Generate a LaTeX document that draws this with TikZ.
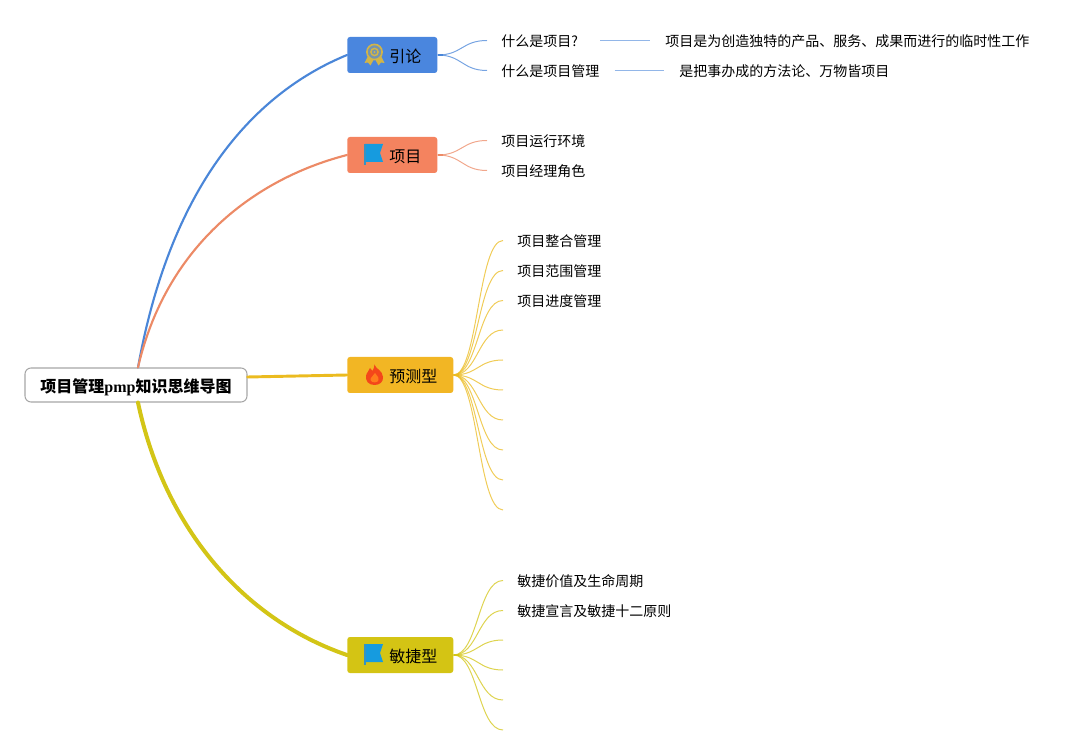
\documentclass[tikz,border=0pt]{standalone}
\usepackage{fontspec}
\setmainfont{Liberation Serif}
\newfontfamily\cjk{Noto Sans CJK SC}
\definecolor{cblue}{HTML}{4A86DE}
\definecolor{corange}{HTML}{F4835F}
\definecolor{cyellow}{HTML}{F2B624}
\definecolor{colive}{HTML}{D4C414}
\definecolor{lblue}{HTML}{4A86D8}
\definecolor{lorange}{HTML}{EC8A66}
\definecolor{lyellow}{HTML}{EBBB20}
\definecolor{lolive}{HTML}{D3C516}
\definecolor{flagblue}{HTML}{169BDF}
\definecolor{medalgold}{HTML}{D2B548}
\definecolor{flamered}{HTML}{F4471A}
\definecolor{flameorange}{HTML}{FF7E1C}
\tikzset{
  root/.style={draw=black!35,line width=.8pt,rounded corners=4.5pt,fill=white,inner xsep=0pt,inner ysep=0pt,minimum width=166.5pt,minimum height=25.5pt,text height=11pt,text depth=0pt,font=\cjk\bfseries\fontsize{12}{14}\selectfont,text=black},
  topic/.style={rounded corners=2pt,inner sep=0pt,minimum height=27pt,text height=11pt,text depth=0pt,anchor=west,text=black,font=\cjk\fontsize{12}{14}\selectfont},
  leaf/.style={anchor=west,inner xsep=10.5pt,inner ysep=0pt,text height=9.5pt,text depth=1pt,font=\cjk\fontsize{10.5}{12}\selectfont,text=black},
  main/.style={line cap=round,line join=round},
  branch/.style={line width=.75pt,draw opacity=.75},
  stub/.style={line width=1.5pt},
  twig/.style={line width=.9pt,draw opacity=.6},
  pics/flagicon/.style={code={
    \fill[flagblue] (-9.5,-11) -- (8.5,-11) -- (5.5,-2) -- (8.5,7) -- (-9.5,7) -- cycle;
    \draw[flagblue!70!gray,line width=.8pt] (-9.5,-11) -- (-9.5,10);
  }},
  pics/medalicon/.style={code={
    \fill[medalgold] (-6.5,1) -- (-10,8) -- (-6.5,7.5) -- (-4,10.5) -- (-1,5) -- cycle;
    \fill[medalgold] (6.5,1) -- (10,8) -- (6.5,7.5) -- (4,10.5) -- (1,5) -- cycle;
    \draw[medalgold,line width=1.2pt,fill=cblue!70!medalgold] (0,-3) circle[radius=7.6];
    \draw[medalgold,line width=1.1pt] (0,-3) circle[radius=3.6];
    \fill[medalgold] (0,-3) circle[radius=1.2];
  }},
  pics/flameicon/.style={code={
    \fill[flamered] (0,-10.5) .. controls (1,-6) and (8,-5) .. (8.5,2) .. controls (9,7) and (5,10) .. (0,10) .. controls (-6,10) and (-9,6) .. (-8.5,1) .. controls (-8,-3) and (-5,-4) .. (-4.5,-7) .. controls (-3,-5.5) and (-2.5,-5) .. (-2,-4) .. controls (-1,-6) and (0,-8) .. (0,-10.5) -- cycle;
    \fill[flameorange] (0.5,-2) .. controls (1,0) and (4.5,1) .. (4,5) .. controls (3.5,8) and (-3,8.5) .. (-4,5) .. controls (-4.5,2) and (-0.5,1) .. (0.5,-2) -- cycle;
  }},
}
\begin{document}
\begin{tikzpicture}[x=.75pt,y=-.75pt]
\useasboundingbox (0,0) rectangle (1089,755);
\node[root] (r) at (136,385) {项目管理{\rmfamily\bfseries pmp}知识思维导图};
\node[topic,fill=cblue] (t1) at (347,55) {\hspace*{31.5pt}引论\hspace*{12pt}};
\node[topic,fill=corange] (t2) at (347,155) {\hspace*{31.5pt}项目\hspace*{12pt}};
\node[topic,fill=cyellow] (t3) at (347,375) {\hspace*{31.5pt}预测型\hspace*{12pt}};
\node[topic,fill=colive] (t4) at (347,655) {\hspace*{31.5pt}敏捷型\hspace*{12pt}};
\pic at (374.5,55) {medalicon};
\pic at (374.5,155) {flagicon};
\pic at (374.5,375) {flameicon};
\pic at (374.5,655) {flagicon};
% root connectors
\draw[main,lblue,line width=1.6pt] ([xshift=1.5pt]r.north) .. controls (170,190) and (250,95) .. (t1.west);
\draw[main,lorange,line width=1.6pt] ([xshift=1.5pt]r.north) .. controls (165,250) and (250,180) .. (t2.west);
\draw[main,lyellow,line width=2.2pt] ([yshift=6pt]r.east) -- (t3.west);
\draw[main,lolive,line width=3pt] ([xshift=1.5pt]r.south) .. controls (165,530) and (245,620) .. (t4.west);
% intro
\node[leaf] (a1) at (487,40.5) {什么是项目?};
\node[leaf] (a2) at (487,70.5) {什么是项目管理};
\node[leaf,inner xsep=11.25pt] (a3) at (650,40.5) {项目是为创造独特的产品、服务、成果而进行的临时性工作};
\node[leaf,inner xsep=11.25pt] (a4) at (664,70.5) {是把事办成的方法论、万物皆项目};
\draw[lblue,branch] (t1.east) .. controls (462,55) and (462,40.5) .. (a1.west);
\draw[lblue,branch] (t1.east) .. controls (462,55) and (462,70.5) .. (a2.west);
\draw[lblue,stub] (t1.east) -- ++(5,0);
\draw[lblue,twig,shorten <=6pt] (a1.east) -- (a3.west);
\draw[lblue,twig,shorten <=.75pt] (a2.east) -- (a4.west);
% project
\node[leaf] (b1) at (487,140.5) {项目运行环境};
\node[leaf] (b2) at (487,170.5) {项目经理角色};
\draw[lorange,branch] (t2.east) .. controls (462,155) and (462,140.5) .. (b1.west);
\draw[lorange,branch] (t2.east) .. controls (462,155) and (462,170.5) .. (b2.west);
\draw[lorange,stub] (t2.east) -- ++(5,0);
% predictive
\node[leaf] (c1) at (503,240.5) {项目整合管理};
\node[leaf] (c2) at (503,270.5) {项目范围管理};
\node[leaf] (c3) at (503,300.5) {项目进度管理};
\coordinate (c4) at (503,330);
\coordinate (c5) at (503,360);
\coordinate (c6) at (503,390);
\coordinate (c7) at (503,420);
\coordinate (c8) at (503,450);
\coordinate (c9) at (503,480);
\coordinate (c10) at (503,510);
\foreach \n/\y in {c1/240.5,c2/270.5,c3/300.5}
  \draw[lyellow,branch] (t3.east) .. controls (478,375) and (478,\y) .. (\n.west);
\foreach \n/\y in {c4/330,c5/360,c6/390,c7/420,c8/450,c9/480,c10/510}
  \draw[lyellow,branch] (t3.east) .. controls (478,375) and (478,\y) .. (\n);
\draw[lyellow,stub] (t3.east) -- ++(5,0);
% agile
\node[leaf] (d1) at (503,580.5) {敏捷价值及生命周期};
\node[leaf] (d2) at (503,610.5) {敏捷宣言及敏捷十二原则};
\coordinate (d3) at (503,640);
\coordinate (d4) at (503,670);
\coordinate (d5) at (503,700);
\coordinate (d6) at (503,730);
\foreach \n/\y in {d1/580.5,d2/610.5}
  \draw[lolive,branch] (t4.east) .. controls (478,655) and (478,\y) .. (\n.west);
\foreach \n/\y in {d3/640,d4/670,d5/700,d6/730}
  \draw[lolive,branch] (t4.east) .. controls (478,655) and (478,\y) .. (\n);
\draw[lolive,stub] (t4.east) -- ++(5,0);
\end{tikzpicture}
\end{document}
